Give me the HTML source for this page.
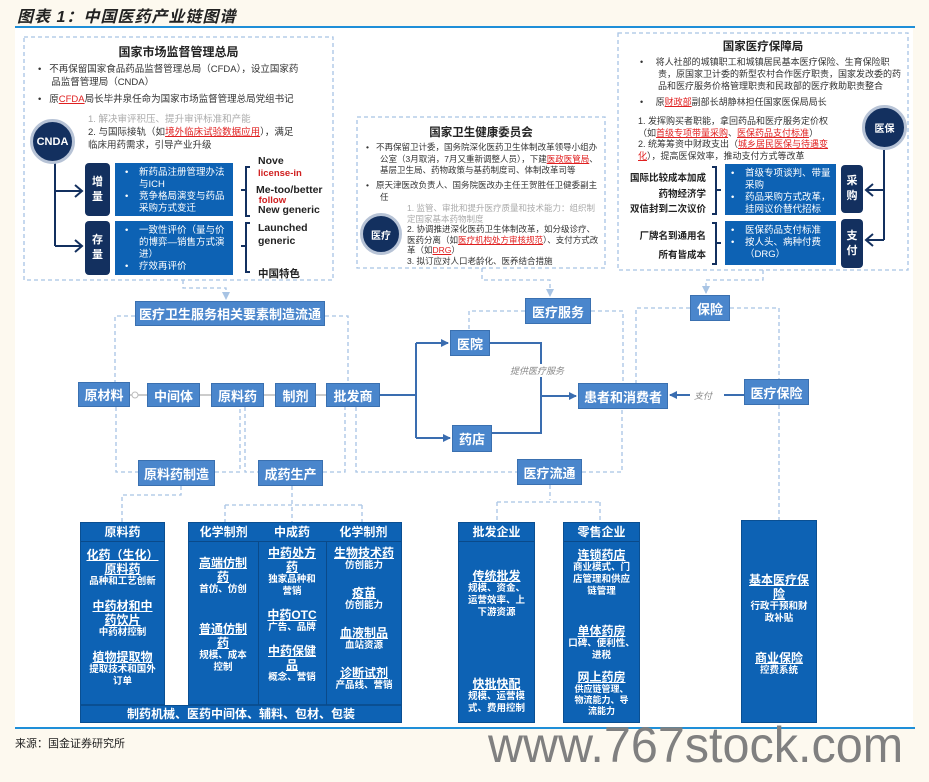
<!DOCTYPE html>
<html><head><meta charset="utf-8"><style>
*{margin:0;padding:0;box-sizing:border-box}
body{width:929px;height:782px;background:#fdf9ef;position:relative;overflow:hidden;font-family:"Liberation Sans","Noto Sans CJK SC",sans-serif;color:#222}
.a{position:absolute}
.b{position:absolute;background:#4a86cc;color:#fff;font-weight:bold;font-size:13px;display:flex;align-items:center;justify-content:center;border:1px solid #3a70b0}
.col{position:absolute;background:#0d62b4;border:1px solid #0a4f92;color:#fff;text-align:center}
.hd{height:19px;border-bottom:1px solid #0a4a8a;font-size:12px;font-weight:bold;line-height:18px}
.t{font-size:12px;font-weight:bold;text-decoration:underline;line-height:14px}
.s{font-size:9.5px;font-weight:bold;line-height:12px}
.dk{position:absolute;background:#13305f;color:#fff;font-size:11px;font-weight:bold;border-radius:4px;display:flex;align-items:center;justify-content:center;text-align:center;line-height:15px}
.bl{position:absolute;background:#0d62b4;color:#fff;font-size:10px;line-height:12.5px;padding:4px 4px 0 10px}
.bl li{list-style:none;padding-left:14px;position:relative}
.bl li:before{content:"•";position:absolute;left:0}
.ci{position:absolute;border-radius:50%;background:#13305f;border:3px solid #b7c3d6;color:#fff;font-weight:bold;font-size:11px;display:flex;align-items:center;justify-content:center}
.tx{position:absolute;font-size:9.5px;line-height:12.5px;color:#333}
.r{color:#e02020;text-decoration:underline}
.g{color:#aaa}
</style></head><body>
<div class="a" style="left:15px;top:28px;width:898px;height:700px;background:#fff"></div>
<div class="a" style="left:17px;top:3px;font-size:16px;font-weight:bold;font-style:italic;letter-spacing:1px">图表 1：中国医药产业链图谱</div>
<div class="a" style="left:15px;top:26px;width:900px;height:2px;background:#1f8fd8"></div>
<div class="a" style="left:15px;top:727px;width:900px;height:2px;background:#1f8fd8"></div>
<div class="a" style="left:15px;top:735px;font-size:11px">来源：国金证券研究所</div>
<div class="a" style="left:488px;top:716px;font-size:50px;color:#808080;transform:scaleX(0.97);transform-origin:left top;letter-spacing:0px">www.767stock.com</div>

<svg class="a" style="left:0;top:0" width="929" height="782">
<defs><marker id="ar" markerWidth="8" markerHeight="8" refX="7" refY="4" orient="auto" markerUnits="userSpaceOnUse"><path d="M0,0L8,4L0,8z" fill="#3a6db0"/></marker>
<marker id="al" markerWidth="8" markerHeight="8" refX="7" refY="4" orient="auto" markerUnits="userSpaceOnUse"><path d="M0,0L8,4L0,8z" fill="#a8c4e4"/></marker></defs>
<g fill="none" stroke="#a8c4e4" stroke-width="1.3" stroke-dasharray="4,3">
<rect x="24" y="37" width="309" height="243"/>
<rect x="357" y="117" width="248" height="151"/>
<rect x="618" y="33" width="290" height="237"/>
<path d="M183,280V288H226V299" marker-end="url(#al)"/>
<path d="M135,316H115V382M325,316H348V383"/>
<path d="M116,407V472H138M215,472H240V407M245,407V472H258M323,472H345V407M356,407V472H517M582,472H622V409"/>
<path d="M525,311H469V330M591,311H623V383"/>
<path d="M482,268V280H550V296" marker-end="url(#al)"/>
<path d="M763,270V280H706V293" marker-end="url(#al)"/>
<path d="M690,308H636V383M730,308H779V379M779,405V520"/>
<path d="M550,485V500M497,502H600M497,502V522M600,502V522"/>
<path d="M181,486V495H122V522M292,486V522M225,505H362M225,505V522M362,505V522"/>
</g>
<g stroke="#bbb" stroke-width="1.5"><path d="M130,395H147M200,395H211M264,395H275M316,395H326"/></g>
<circle cx="135" cy="395" r="3" fill="#fff" stroke="#bbb"/>
<g fill="none" stroke="#3a6db0" stroke-width="2">
<path d="M380,395H416M416,343V438"/>
<path d="M416,343H448" marker-end="url(#ar)"/><path d="M416,438H450" marker-end="url(#ar)"/>
<path d="M490,343H541V433H492"/>
<path d="M541,396H576" marker-end="url(#ar)"/>
<path d="M744,395H724M690,395H670" marker-end="url(#ar)"/>
</g>
<g fill="none" stroke="#3a6db0" stroke-width="1.5"><path d="M122,705V690M225,705V690M292,705V690M362,705V690"/></g>
<g fill="#3a6db0"><path d="M118,692L122,686L126,692zM221,692L225,686L229,692zM288,692L292,686L296,692zM358,692L362,686L366,692z"/></g>
<g fill="none" stroke="#13305f" stroke-width="2">
<path d="M55,163V246M55,191H82M55,246H82M75,185L82,191L75,197M75,240L82,246L75,252"/>
<path d="M884,150V240M884,190H866M884,240H866M873,184L866,190L873,196M873,234L866,240L873,246"/>
<path d="M250,167H246V216H250M246,190H241M250,223H246V272H250M246,246H241"/>
<path d="M712,167H716V214H712M716,190H721M712,223H716V264H712M716,243H721"/>
</g>
</svg>

<!-- top left -->
<div class="a" style="left:24px;top:43px;width:309px;text-align:center;font-size:12px;font-weight:bold">国家市场监督管理总局</div>
<div class="tx" style="left:38px;top:64px;width:290px">•&nbsp;&nbsp;&nbsp;不再保留国家食品药品监督管理总局（CFDA），设立国家药<br>&nbsp;&nbsp;&nbsp;&nbsp;&nbsp;品监督管理局（CNDA）</div>
<div class="tx" style="left:38px;top:94px;width:290px">•&nbsp;&nbsp;&nbsp;原<span class="r">CFDA</span>局长毕井泉任命为国家市场监督管理总局党组书记</div>
<div class="tx g" style="left:88px;top:114px">1. 解决审评积压、提升审评标准和产能</div>
<div class="tx" style="left:88px;top:127px;width:230px">2. 与国际接轨（如<span class="r">境外临床试验数据应用</span>），满足<br>临床用药需求，引导产业升级</div>
<div class="ci" style="left:30px;top:119px;width:45px;height:45px">CNDA</div>
<div class="dk" style="left:85px;top:163px;width:25px;height:53px">增<br>量</div>
<div class="dk" style="left:85px;top:221px;width:25px;height:54px">存<br>量</div>
<div class="bl" style="left:115px;top:163px;width:118px;height:53px;font-size:9.5px;line-height:12px"><ul><li>新药品注册管理办法与ICH</li><li>竞争格局演变与药品采购方式变迁</li></ul></div>
<div class="bl" style="left:115px;top:221px;width:118px;height:54px;font-size:9.5px;line-height:12px"><ul><li>一致性评价（量与价的博弈—销售方式演进）</li><li>疗效再评价</li></ul></div>
<div class="a" style="left:258px;top:155px;font-size:10.5px;font-weight:bold;line-height:12px">Nove<br><span style="color:#d02020;font-size:9.5px">license-in</span></div>
<div class="a" style="left:256px;top:185px;font-size:10.5px;font-weight:bold;line-height:10px">Me-too/better<br><span style="color:#d02020;font-size:9.5px">&nbsp;follow</span></div>
<div class="a" style="left:258px;top:204px;font-size:10.5px;font-weight:bold">New generic</div>
<div class="a" style="left:258px;top:222px;font-size:10.5px;font-weight:bold;line-height:13px">Launched<br>generic</div>
<div class="a" style="left:258px;top:266px;font-size:10.5px;font-weight:bold">中国特色</div>

<!-- middle -->
<div class="a" style="left:357px;top:124px;width:248px;text-align:center;font-size:11.5px;font-weight:bold">国家卫生健康委员会</div>
<div class="tx" style="left:366px;top:142px;width:236px;font-size:8.5px;line-height:11.5px;padding-left:14px;text-indent:-14px">•&nbsp;&nbsp;&nbsp;不再保留卫计委，国务院深化医药卫生体制改革领导小组办公室（3月取消，7月又重新调整人员），下建<span class="r">医政医管局</span>、基层卫生局、药物政策与基药制度司、体制改革司等</div>
<div class="tx" style="left:366px;top:180px;width:236px;font-size:8.5px;line-height:11.5px;padding-left:14px;text-indent:-14px">•&nbsp;&nbsp;&nbsp;原天津医改负责人、国务院医改办主任王贺胜任卫健委副主任</div>
<div class="tx g" style="left:407px;top:203px;width:196px;font-size:8.5px;line-height:10.5px">1. 监管、审批和提升医疗质量和技术能力：组织制定国家基本药物制度</div>
<div class="tx" style="left:407px;top:224px;width:196px;font-size:8.5px;line-height:10.5px">2. 协调推进深化医药卫生体制改革，如分级诊疗、医药分离（如<span class="r">医疗机构处方审核规范</span>）、支付方式改革（如<span class="r">DRG</span>）<br>3. 拟订应对人口老龄化、医养结合措施</div>
<div class="ci" style="left:360px;top:213px;width:42px;height:42px;font-size:10px">医疗</div>

<!-- right -->
<div class="a" style="left:618px;top:38px;width:290px;text-align:center;font-size:11.5px;font-weight:bold">国家医疗保障局</div>
<div class="tx" style="left:640px;top:56px;width:262px;font-size:9px;line-height:12px;padding-left:18px;text-indent:-18px">•&nbsp;&nbsp;&nbsp;&nbsp;&nbsp;将人社部的城镇职工和城镇居民基本医疗保险、生育保险职责，原国家卫计委的新型农村合作医疗职责，国家发改委的药品和医疗服务价格管理职责和民政部的医疗救助职责整合</div>
<div class="tx" style="left:640px;top:96px;width:262px;font-size:9px">•&nbsp;&nbsp;&nbsp;&nbsp;&nbsp;原<span class="r">财政部</span>副部长胡静林担任国家医保局局长</div>
<div class="tx" style="left:638px;top:116px;width:206px;font-size:9px;line-height:11.5px">1. 发挥购买者职能，拿回药品和医疗服务定价权（如<span class="r">首级专项带量采购</span>、<span class="r">医保药品支付标准</span>）<br>2. 统筹筹资中财政支出（<span class="r">城乡居民医保与待遇变化</span>），提高医保效率，推动支付方式等改革</div>
<div class="ci" style="left:862px;top:105px;width:45px;height:45px;font-size:10px">医保</div>
<div class="a" style="left:620px;top:171px;width:86px;text-align:right;font-size:9.5px;font-weight:bold;line-height:15.5px">国际比较成本加成<br>药物经济学<br>双信封到二次议价</div>
<div class="a" style="left:620px;top:227px;width:86px;text-align:right;font-size:9.5px;font-weight:bold;line-height:19px">厂牌名到通用名<br>所有皆成本</div>
<div class="bl" style="left:725px;top:164px;width:111px;height:51px;padding-left:6px;font-size:9.5px;line-height:12px"><ul><li>首级专项谈判、带量采购</li><li>药品采购方式改革，挂网议价替代招标</li></ul></div>
<div class="bl" style="left:725px;top:221px;width:111px;height:44px;padding-left:6px;font-size:9.5px;line-height:12px"><ul><li>医保药品支付标准</li><li>按人头、病种付费（DRG）</li></ul></div>
<div class="dk" style="left:841px;top:165px;width:22px;height:48px">采<br>购</div>
<div class="dk" style="left:841px;top:219px;width:22px;height:49px">支<br>付</div>

<!-- flow -->
<div class="b" style="left:135px;top:301px;width:190px;height:25px">医疗卫生服务相关要素制造流通</div>
<div class="b" style="left:78px;top:382px;width:52px;height:25px">原材料</div>
<div class="b" style="left:147px;top:383px;width:53px;height:24px">中间体</div>
<div class="b" style="left:211px;top:383px;width:53px;height:24px">原料药</div>
<div class="b" style="left:275px;top:383px;width:41px;height:24px">制剂</div>
<div class="b" style="left:326px;top:383px;width:54px;height:24px">批发商</div>
<div class="b" style="left:450px;top:330px;width:40px;height:26px">医院</div>
<div class="b" style="left:452px;top:425px;width:40px;height:27px">药店</div>
<div class="b" style="left:578px;top:383px;width:90px;height:26px">患者和消费者</div>
<div class="b" style="left:744px;top:379px;width:65px;height:26px">医疗保险</div>
<div class="b" style="left:525px;top:298px;width:66px;height:26px">医疗服务</div>
<div class="b" style="left:690px;top:295px;width:40px;height:26px">保险</div>
<div class="b" style="left:138px;top:460px;width:77px;height:26px">原料药制造</div>
<div class="b" style="left:258px;top:460px;width:65px;height:26px">成药生产</div>
<div class="b" style="left:517px;top:459px;width:65px;height:26px">医疗流通</div>
<div class="a" style="left:510px;top:364px;font-size:9px;font-style:italic;color:#888;background:#fff">提供医疗服务</div>
<div class="a" style="left:694px;top:389px;font-size:9px;font-style:italic;color:#888;background:#fff">支付</div>

<!-- bottom columns -->
<div class="col" style="left:80px;top:522px;width:85px;height:183px"><div class="hd">原料药</div>
<div style="margin-top:6px" class="t">化药（生化）<br>原料药</div><div class="s">品种和工艺创新</div>
<div style="margin-top:11px" class="t">中药材和中<br>药饮片</div><div class="s">中药材控制</div>
<div style="margin-top:11px" class="t" >植物提取物</div><div class="s">提取技术和国外<br>订单</div></div>
<div class="col" style="left:188px;top:522px;width:214px;height:183px"><div class="hd" style="display:flex"><span style="width:70px">化学制剂</span><span style="width:68px">中成药</span><span style="width:76px">化学制剂</span></div></div>
<div class="a" style="left:258px;top:541px;width:1px;height:164px;background:#0a4a8a"></div>
<div class="a" style="left:326px;top:541px;width:1px;height:164px;background:#0a4a8a"></div>
<div class="a" style="left:188px;top:541px;width:70px;color:#fff;text-align:center"><div class="t" style="margin-top:15px">高端仿制<br>药</div><div class="s">首仿、仿创</div><div class="t" style="margin-top:26px">普通仿制<br>药</div><div class="s">规模、成本<br>控制</div></div>
<div class="a" style="left:258px;top:541px;width:68px;color:#fff;text-align:center"><div class="t" style="margin-top:5px">中药处方<br>药</div><div class="s">独家品种和<br>营销</div><div class="t" style="margin-top:10px">中药OTC</div><div class="s">广告、品牌</div><div class="t" style="margin-top:10px">中药保健<br>品</div><div class="s">概念、营销</div></div>
<div class="a" style="left:326px;top:541px;width:76px;color:#fff;text-align:center"><div class="t" style="margin-top:5px">生物技术药</div><div class="s">仿创能力</div><div class="t" style="margin-top:14px">疫苗</div><div class="s">仿创能力</div><div class="t" style="margin-top:14px">血液制品</div><div class="s">血站资源</div><div class="t" style="margin-top:14px">诊断试剂</div><div class="s">产品线、营销</div></div>
<div class="col" style="left:80px;top:705px;width:322px;height:18px;font-size:12px;font-weight:bold;line-height:16px">制药机械、医药中间体、辅料、包材、包装</div>

<div class="col" style="left:458px;top:522px;width:77px;height:201px"><div class="hd">批发企业</div>
<div class="t" style="margin-top:27px">传统批发</div><div class="s">规模、资金、<br>运营效率、上<br>下游资源</div>
<div class="t" style="margin-top:58px">快批快配</div><div class="s">规模、运营模<br>式、费用控制</div></div>
<div class="col" style="left:563px;top:522px;width:77px;height:201px"><div class="hd">零售企业</div>
<div class="t" style="margin-top:6px">连锁药店</div><div class="s">商业模式、门<br>店管理和供应<br>链管理</div>
<div class="t" style="margin-top:26px">单体药房</div><div class="s">口碑、便利性、<br>进税</div>
<div class="t" style="margin-top:8px">网上药房</div><div class="s" style="font-size:9px;line-height:11px">供应链管理、<br>物流能力、导<br>流能力</div></div>
<div class="col" style="left:741px;top:520px;width:76px;height:203px">
<div class="t" style="margin-top:52px">基本医疗保<br>险</div><div class="s">行政干预和财<br>政补贴</div>
<div class="t" style="margin-top:26px">商业保险</div><div class="s">控费系统</div></div>
</body></html>
